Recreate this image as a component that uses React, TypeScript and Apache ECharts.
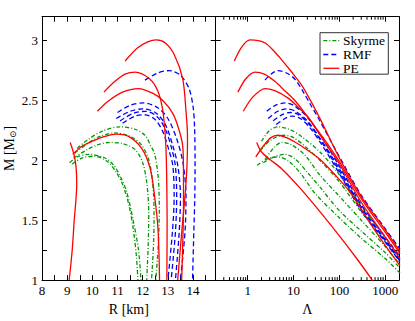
import React, { useEffect, useRef } from 'react';
import * as echarts from 'echarts';

const FONT = '"Liberation Serif", "DejaVu Serif", serif';

// ---------- M-R panel data: [R (km), M (Msun)] ----------
const skyrmeMR1 = [[9.4,2.10],[9.8,2.17],[10.4,2.245],[11.1,2.28],[11.7,2.26],[12.09,2.21],[12.3,2.13],[12.48,2.05],[12.62,1.85],[12.66,1.6],[12.62,1.3],[12.52,1.0]];
const skyrmeMR2 = [[9.3,2.06],[9.8,2.14],[10.3,2.2],[10.9,2.23],[11.5,2.2],[11.95,2.13],[12.2,2.03],[12.33,1.92],[12.43,1.72],[12.45,1.5],[12.42,1.25],[12.35,1.0]];
const skyrmeMR3 = [[9.25,2.02],[9.8,2.09],[10.2,2.13],[10.7,2.15],[11.2,2.14],[11.7,2.09],[12.0,1.98],[12.17,1.8],[12.24,1.55],[12.22,1.3],[12.16,1.0]];
const skyrmeMR4 = [[9.1,1.98],[9.4,2.03],[9.9,2.05],[10.5,2.02],[10.85,1.96],[11.1,1.87],[11.36,1.74],[11.62,1.5],[11.83,1.26],[11.93,1.0]];
const skyrmeMR5 = [[9.2,1.97],[9.6,2.02],[10.1,2.035],[10.6,1.99],[10.95,1.9],[11.2,1.8],[11.45,1.63],[11.63,1.42],[11.75,1.2],[11.81,1.0]];

const rmfMR1 = [[12.09,2.67],[12.6,2.73],[13.06,2.75],[13.5,2.71],[13.84,2.6],[14.0,2.45],[14.06,2.28],[14.08,2.0],[14.07,1.7],[14.03,1.4],[13.98,1.0]];
const rmfMR2 = [[11.0,2.40],[11.5,2.46],[12.05,2.48],[12.6,2.44],[13.0,2.35],[13.35,2.18],[13.6,1.98],[13.72,1.7],[13.68,1.4],[13.5,1.0]];
const rmfMR3 = [[10.95,2.35],[11.5,2.41],[12.0,2.43],[12.5,2.40],[12.9,2.30],[13.2,2.12],[13.4,1.95],[13.5,1.7],[13.45,1.4],[13.3,1.0]];
const rmfMR4 = [[11.1,2.33],[11.6,2.39],[12.1,2.41],[12.55,2.37],[12.9,2.26],[13.15,2.1],[13.3,1.95],[13.35,1.7],[13.3,1.4],[13.13,1.0]];
const rmfMR5 = [[11.2,2.31],[11.7,2.37],[12.1,2.38],[12.5,2.34],[12.8,2.24],[13.05,2.08],[13.2,1.95],[13.25,1.7],[13.18,1.4],[13.0,1.0]];

const peMR1 = [[11.3,2.83],[11.8,2.94],[12.2,2.99],[12.54,3.006],[12.9,2.98],[13.26,2.88],[13.59,2.68],[13.72,2.41],[13.78,2.2],[13.76,1.96],[13.68,1.7],[13.55,1.4],[13.39,1.0]];
const peMR2 = [[10.46,2.57],[10.9,2.66],[11.3,2.72],[11.7,2.737],[12.28,2.68],[12.6,2.58],[12.78,2.44],[12.87,2.28],[12.92,2.12],[12.95,1.9],[12.97,1.5],[12.96,1.0]];
const peMR3 = [[10.2,2.41],[10.6,2.49],[11.2,2.57],[11.83,2.60],[12.41,2.56],[12.8,2.50],[13.2,2.39],[13.45,2.25],[13.59,2.12],[13.62,1.9],[13.62,1.6],[13.59,1.3],[13.55,1.0]];
const peMR4 = [[9.22,2.05],[9.6,2.12],[10.0,2.16],[10.5,2.20],[10.95,2.22],[11.44,2.20],[11.96,2.10],[12.3,1.93],[12.48,1.69],[12.61,1.42],[12.67,1.0]];
const peMR5 = [[9.12,2.15],[9.27,2.05],[9.35,1.95],[9.38,1.8],[9.34,1.65],[9.28,1.5],[9.2,1.25],[9.08,1.0]];

// ---------- M-Lambda panel data: [Lambda, M (Msun)] ----------
const skyrmeML1 = [[2.0,2.16],[3.0,2.25],[4.6,2.28],[8,2.26],[14.9,2.2],[40,2.06],[100,1.88],[300,1.62],[1000,1.36],[2100,1.2]];
const skyrmeML2 = [[1.85,2.08],[3.2,2.17],[5.9,2.21],[10,2.19],[20,2.1],[40,1.99],[100,1.82],[300,1.57],[1000,1.32],[2100,1.16]];
const skyrmeML3 = [[2.4,2.01],[3.8,2.11],[5.5,2.15],[9,2.13],[18,2.04],[37,1.88],[100,1.7],[300,1.5],[1000,1.28],[2100,1.13]];
const skyrmeML4 = [[2.2,1.98],[3.8,2.03],[6.5,2.05],[11,2.01],[20,1.9],[37,1.78],[100,1.58],[300,1.41],[1000,1.23],[2100,1.1]];
const skyrmeML5 = [[1.6,1.96],[2.6,2.01],[4.5,2.03],[8,1.99],[15,1.88],[30,1.72],[100,1.52],[300,1.35],[1000,1.18],[2100,1.06]];

const rmfML1 = [[2.38,2.67],[3.2,2.72],[4.6,2.75],[7,2.73],[10.6,2.68],[17,2.56],[24.7,2.45],[34,2.36],[100,2.03],[300,1.71],[1000,1.43],[2100,1.26]];
const rmfML2 = [[2.6,2.41],[4,2.46],[6.5,2.48],[10,2.46],[20,2.36],[40,2.2],[100,1.95],[300,1.63],[1000,1.36],[2100,1.19]];
const rmfML3 = [[2.8,2.35],[4.5,2.41],[7,2.43],[11,2.41],[20,2.33],[40,2.17],[100,1.93],[300,1.61],[1000,1.34],[2100,1.17]];
const rmfML4 = [[3.6,2.33],[5.5,2.38],[8.5,2.40],[13,2.38],[22,2.3],[40,2.16],[100,1.91],[300,1.6],[1000,1.33],[2100,1.16]];
const rmfML5 = [[4.2,2.30],[6.5,2.35],[9.5,2.37],[14,2.35],[22,2.28],[40,2.14],[100,1.89],[300,1.58],[1000,1.32],[2100,1.15]];

const peML1 = [[0.51,2.83],[0.75,2.95],[1.12,3.006],[1.7,3.0],[2.4,2.98],[3.6,2.92],[5.5,2.84],[9,2.74],[14.9,2.63],[25,2.48],[40,2.33],[100,2.02],[300,1.7],[1000,1.42],[2100,1.24]];
const peML2 = [[0.61,2.57],[0.9,2.68],[1.44,2.737],[2.3,2.72],[3.9,2.66],[6.5,2.58],[10.7,2.5],[18,2.39],[29,2.28],[50,2.14],[100,1.97],[300,1.65],[1000,1.36],[2100,1.18]];
const peML3 = [[0.8,2.41],[1.3,2.53],[2.38,2.60],[4,2.58],[7.6,2.52],[13,2.44],[20.8,2.36],[32,2.26],[48,2.17],[100,1.99],[300,1.68],[1000,1.4],[2100,1.22]];
const peML4 = [[1.5,2.03],[2.2,2.12],[3.2,2.19],[4.6,2.21],[7,2.19],[10,2.16],[14.9,2.12],[37.5,2.01],[80,1.88],[167,1.74],[500,1.46],[1000,1.29],[2100,1.12]];
const peML5 = [[1.57,2.15],[2.0,2.07],[3.0,2.01],[5.5,1.93],[13.7,1.77],[40,1.56],[100,1.37],[250,1.17],[500,1.01],[560,0.98]];

// ---------- axis ticks / legend ----------
const lambdaMinorTicks = [0.3,0.4,0.5,0.6,0.7,0.8,0.9,2,3,4,5,6,7,8,9,20,30,40,50,60,70,80,90,200,300,400,500,600,700,800,900];
const legendNames = ['Skyrme', 'RMF', 'PE'];

const GREEN = '#009900';
const BLUE = '#0000ff';
const RED = '#ff0000';
const DASHDOT = [4, 2, 1, 2];
const DASHED = [5, 3];
const legendColors = [GREEN, BLUE, RED];
const legendDashes: any[] = [DASHDOT, DASHED, null];

const mk = (name: string, color: string, dash: any, data: number[][], panel: number) => ({
  type: 'line',
  name,
  data,
  xAxisIndex: panel === 0 ? 0 : 2,
  yAxisIndex: panel === 0 ? 0 : 2,
  symbol: 'none',
  showSymbol: false,
  smooth: 0.3,
  silent: true,
  lineStyle: { color, width: 1.3, type: dash },
  itemStyle: { color },
  z: 2,
});

const axisBase = {
  axisLine: { show: true, onZero: false, lineStyle: { color: '#000', width: 1 } },
  axisTick: { show: true, inside: true, length: 5, lineStyle: { color: '#000', width: 1 } },
  splitLine: { show: false },
  axisLabel: { show: false },
};

const labelStyle = { color: '#000', fontSize: 13, fontFamily: FONT };

const isPow10 = (v: number) => {
  const l = Math.log10(v);
  return Math.abs(l - Math.round(l)) < 1e-6;
};

// legend box drawn as graphic
const LEG_X = 320, LEG_Y = 32.7, LEG_W = 68.3, LEG_H = 41.5, ROW0 = 40.7, ROW_STEP = 13.8;
const legendGraphic = {
  type: 'group',
  z: 100,
  children: [
    { type: 'rect', shape: { x: LEG_X, y: LEG_Y, width: LEG_W, height: LEG_H }, style: { fill: '#fff', stroke: '#333', lineWidth: 1 } },
    ...legendNames.flatMap((name, i) => {
      const y = ROW0 + i * ROW_STEP;
      return [
        { type: 'line', shape: { x1: LEG_X + 3.3, y1: y, x2: LEG_X + 19.3, y2: y }, style: { stroke: legendColors[i], lineWidth: 1.3, lineDash: legendDashes[i] } },
        { type: 'text', x: LEG_X + 23, y, style: { text: name, fill: '#000', font: `13.5px ${FONT}`, textVerticalAlign: 'middle', verticalAlign: 'middle', textAlign: 'left', align: 'left' } },
      ];
    }),
  ],
};

export default function App() {
  const ref = useRef<HTMLDivElement>(null);
  useEffect(() => {
    const chart = echarts.init(ref.current!, null, { renderer: 'svg' });
    const option: any = {
      animation: false,
      backgroundColor: '#fff',
      grid: [
        { left: 38.7, top: 16.7, width: 177, height: 272 },
        { left: 215.7, top: 16.7, width: 183.3, height: 272 },
      ],
      graphic: [legendGraphic],
      xAxis: [
        {
          ...axisBase, gridIndex: 0, type: 'value', min: 8, max: 14.9, interval: 0.5, position: 'bottom',
          axisLabel: { show: true, interval: 0, margin: 4, ...labelStyle, formatter: (v: number) => (Math.abs(v - Math.round(v)) < 1e-9 ? String(Math.round(v)) : '') },
          name: 'R [km]', nameLocation: 'middle', nameGap: 15,
          nameTextStyle: { color: '#000', fontSize: 14, fontFamily: FONT },
        },
        { ...axisBase, gridIndex: 0, type: 'value', min: 8, max: 14.9, interval: 0.5, position: 'top' },
        {
          ...axisBase, gridIndex: 1, type: 'log', logBase: 10, min: 0.2, max: 2000, position: 'bottom',
          axisLabel: { show: true, interval: 0, margin: 4, ...labelStyle, formatter: (v: number) => (isPow10(v) ? String(Math.round(v)) : '') },
          name: 'Λ', nameLocation: 'middle', nameGap: 13,
          nameTextStyle: { color: '#000', fontSize: 14, fontFamily: FONT },
        },
        { ...axisBase, gridIndex: 1, type: 'log', logBase: 10, min: 0.2, max: 2000, position: 'top' },
      ],
      yAxis: [
        {
          ...axisBase, gridIndex: 0, type: 'value', min: 1, max: 3.2, interval: 0.25, position: 'left',
          axisLabel: { show: true, interval: 0, margin: 4, ...labelStyle, formatter: (v: number) => (Math.abs(v * 2 - Math.round(v * 2)) < 1e-9 ? String(v) : '') },
          name: 'M [M{s|⊙}]', nameLocation: 'middle', nameRotate: 90, nameGap: 25,
          nameTextStyle: {
            color: '#000', fontSize: 14, fontFamily: FONT, lineHeight: 16,
            rich: { s: { fontSize: 9, fontFamily: FONT, color: '#000', lineHeight: 16, verticalAlign: 'bottom' } },
          },
        },
        { ...axisBase, gridIndex: 0, type: 'value', min: 1, max: 3.2, interval: 0.25, position: 'right' },
        { ...axisBase, gridIndex: 1, type: 'value', min: 1, max: 3.2, interval: 0.25, position: 'left' },
        { ...axisBase, gridIndex: 1, type: 'value', min: 1, max: 3.2, interval: 0.25, position: 'right' },
      ],
      series: [
        mk('Skyrme', GREEN, DASHDOT, skyrmeMR1, 0),
        mk('Skyrme', GREEN, DASHDOT, skyrmeMR2, 0),
        mk('Skyrme', GREEN, DASHDOT, skyrmeMR3, 0),
        mk('Skyrme', GREEN, DASHDOT, skyrmeMR4, 0),
        mk('Skyrme', GREEN, DASHDOT, skyrmeMR5, 0),
        mk('RMF', BLUE, DASHED, rmfMR1, 0),
        mk('RMF', BLUE, DASHED, rmfMR2, 0),
        mk('RMF', BLUE, DASHED, rmfMR3, 0),
        mk('RMF', BLUE, DASHED, rmfMR4, 0),
        mk('RMF', BLUE, DASHED, rmfMR5, 0),
        mk('PE', RED, 'solid', peMR1, 0),
        mk('PE', RED, 'solid', peMR2, 0),
        mk('PE', RED, 'solid', peMR3, 0),
        mk('PE', RED, 'solid', peMR4, 0),
        mk('PE', RED, 'solid', peMR5, 0),
        mk('Skyrme', GREEN, DASHDOT, skyrmeML1, 1),
        mk('Skyrme', GREEN, DASHDOT, skyrmeML2, 1),
        mk('Skyrme', GREEN, DASHDOT, skyrmeML3, 1),
        mk('Skyrme', GREEN, DASHDOT, skyrmeML4, 1),
        mk('Skyrme', GREEN, DASHDOT, skyrmeML5, 1),
        mk('RMF', BLUE, DASHED, rmfML1, 1),
        mk('RMF', BLUE, DASHED, rmfML2, 1),
        mk('RMF', BLUE, DASHED, rmfML3, 1),
        mk('RMF', BLUE, DASHED, rmfML4, 1),
        mk('RMF', BLUE, DASHED, rmfML5, 1),
        mk('PE', RED, 'solid', peML1, 1),
        mk('PE', RED, 'solid', peML2, 1),
        mk('PE', RED, 'solid', peML3, 1),
        mk('PE', RED, 'solid', peML4, 1),
        mk('PE', RED, 'solid', peML5, 1),
        {
          type: 'custom',
          xAxisIndex: 2,
          yAxisIndex: 2,
          silent: true,
          clip: false,
          data: lambdaMinorTicks.map((v) => [v, 2]),
          renderItem: (params: any, api: any) => {
            const x = api.coord([api.value(0), 2])[0];
            const cs = params.coordSys;
            const yb = cs.y + cs.height;
            const yt = cs.y;
            return {
              type: 'group',
              children: [
                { type: 'line', shape: { x1: x, y1: yb, x2: x, y2: yb - 3 }, style: { stroke: '#000', lineWidth: 1 } },
                { type: 'line', shape: { x1: x, y1: yt, x2: x, y2: yt + 3 }, style: { stroke: '#000', lineWidth: 1 } },
              ],
            };
          },
        },
      ],
    };
    chart.setOption(option);
    return () => chart.dispose();
  }, []);
  return <div ref={ref} style={{ position: 'fixed', left: 0, top: 0, width: 415, height: 321 }} />;
}
